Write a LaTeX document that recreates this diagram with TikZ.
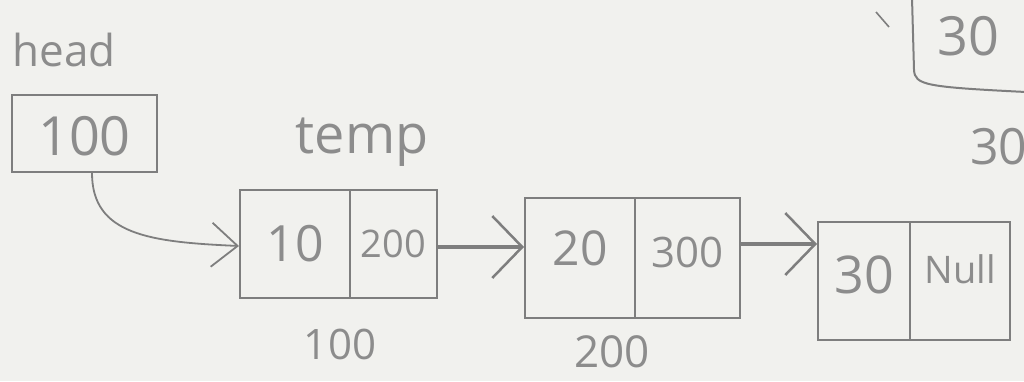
\documentclass[tikz,border=0pt]{standalone}
\usepackage{fontspec}
\setmainfont{Open Sans}
\usetikzlibrary{arrows.meta,calc}
\definecolor{paper}{HTML}{F1F1EE}
\definecolor{pencil}{HTML}{7E7E7E}
\definecolor{pencilink}{HTML}{8C8C8C}
\newcommand{\fsz}[1]{\fontsize{#1}{#1}\selectfont}
\tikzset{
  cell/.style={draw=pencil, line width=2pt, minimum height=#1, inner sep=0pt},
  hand/.style={text=pencilink, inner sep=0pt},
  link/.style={draw=pencil, line width=3.5pt, -{Straight Barb[length=30pt,width=62pt,line width=2.5pt]}},
  headlink/.style={draw=pencil, line width=1.8pt, -{Straight Barb[length=26pt,width=44pt,line width=1.8pt]}},
}
\begin{document}
\begin{tikzpicture}[x=1pt,y=-1pt]
  \clip (0,0) rectangle (1024,381);
  \fill[paper] (0,0) rectangle (1024,381);

  % head pointer
  \node[hand, font=\fsz{44}] (headlbl) at (64,50) {head};
  \node[cell=77pt, minimum width=145pt] (headbox) at (84.5,133.5) {};
  \node[hand, font=\fsz{54}] at ([yshift=-3pt]headbox) {100};

  % temp label
  \node[hand, font=\fsz{54}] (templbl) at (362,142) {temp};

  % first node
  \node[cell=108pt, minimum width=110pt] (n1d) at (295,244) {};
  \node[cell=108pt, minimum width=87pt] (n1p) at (393.5,244) {};
  \node[hand, font=\fsz{50}] at (n1d) {10};
  \node[hand, font=\fsz{38}] at (n1p) {200};
  \node[hand, font=\fsz{42}] (addr1) at (340,344) {100};

  % second node
  \node[cell=120pt, minimum width=110pt] (n2d) at (580,258) {};
  \node[cell=120pt, minimum width=105pt] (n2p) at (687.5,258) {};
  \node[hand, font=\fsz{48}] at ([yshift=10pt]n2d) {20};
  \node[hand, font=\fsz{42}] at ([yshift=6pt]n2p) {300};
  \node[hand, font=\fsz{44}] (addr2) at (612,352) {200};

  % third node
  \node[cell=118pt, minimum width=92pt] (n3d) at (864,281) {};
  \node[cell=118pt, minimum width=100pt] (n3p) at (960,281) {};
  \node[hand, font=\fsz{52}] at ([yshift=6pt]n3d) {30};
  \node[hand, font=\fsz{38}] at ([yshift=12pt]n3p) {Null};

  % links
  \draw[headlink] ([xshift=7.5pt]headbox.south) .. controls (92,235) and (150,242) .. ([yshift=-2pt]n1d.west);
  \draw[link] ([yshift=-3pt]n1p.east) -- ([yshift=-3pt]n1p.east -| n2d.west);
  \draw[link] ([yshift=14pt]n2p.east) -- ([yshift=14pt]n2p.east -| n3d.west);

  % partially visible node at the top right
  \draw[pencil, line width=2pt] (912,-2) -- (914,70) .. controls (915,85) and (925,87) .. (1026,92);
  \draw[pencil, line width=1.6pt] (876,12) -- (889,27);
  \node[hand, font=\fsz{54}] (n0d) at (968,36) {30};
  \node[hand, font=\fsz{50}, anchor=west] (addr3) at (970,147) {300};
\end{tikzpicture}
\end{document}
